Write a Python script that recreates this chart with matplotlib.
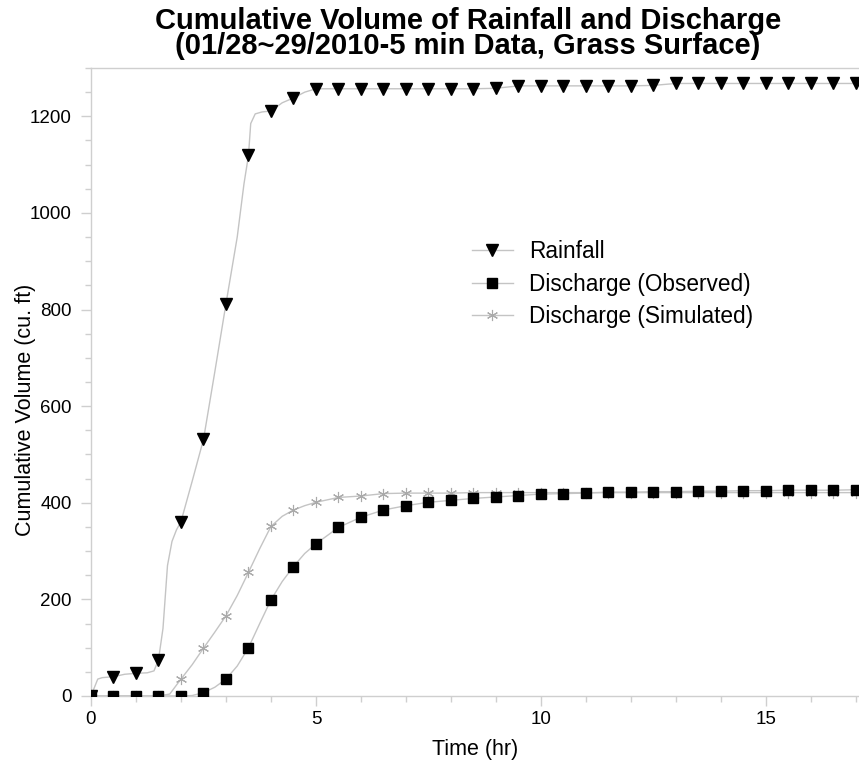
import numpy as np
import matplotlib
matplotlib.use("Agg")
import matplotlib.pyplot as plt
from matplotlib.ticker import MultipleLocator

# ---------------- data ----------------
rain_time = [0, 0.15, 0.25, 0.5, 0.75, 1.0, 1.25, 1.4, 1.5, 1.6, 1.7, 1.8, 1.9,
             2.0, 2.25, 2.5, 2.75, 3.0, 3.25, 3.4, 3.5, 3.55, 3.65, 3.8, 4.0,
             4.25, 4.5, 4.75, 5.0, 5.5, 6.0, 6.5, 7.0, 7.5, 8.0, 8.5, 9.0,
             9.5, 10.0, 10.5, 11.0, 11.5, 12.0, 12.5, 13.0, 13.5, 14.0, 14.5,
             15.0, 15.5, 16.0, 16.5, 17.0]
rain_vol = [0, 35, 38, 40, 45, 47, 48, 52, 75, 140, 270, 320, 344,
            361, 445, 531, 670, 812, 950, 1060, 1119, 1185, 1205, 1209, 1211,
            1228, 1238, 1250, 1257, 1257, 1257, 1257, 1257, 1257, 1257, 1257, 1258,
            1263, 1263, 1263, 1263, 1263, 1263, 1264, 1268, 1268, 1268, 1268,
            1268, 1268, 1268, 1268, 1268]

obs_time = [0, 0.5, 1.0, 1.5, 2.0, 2.25, 2.5, 2.75, 3.0, 3.25, 3.5, 3.75, 4.0,
            4.25, 4.5, 4.75, 5.0, 5.5, 6.0, 6.5, 7.0, 7.5, 8.0, 8.5, 9.0, 9.5,
            10.0, 10.5, 11.0, 11.5, 12.0, 12.5, 13.0, 13.5, 14.0, 14.5, 15.0,
            15.5, 16.0, 16.5, 17.0]
obs_vol = [0, 0, 0, 0, 0, 1, 7, 18, 35, 62, 100, 150, 199,
           237, 268, 295, 315, 349, 370, 385, 394, 401, 405, 409, 412, 415,
           418, 419, 420, 422, 422, 423, 423, 424, 424, 425, 425,
           426, 426, 426, 427]

sim_time = [0, 0.5, 1.0, 1.5, 1.75, 2.0, 2.25, 2.5, 2.75, 3.0, 3.25, 3.5, 3.75,
            4.0, 4.25, 4.5, 4.75, 5.0, 5.5, 6.0, 6.5, 7.0, 7.5, 8.0, 8.5, 9.0,
            9.5, 10.0, 10.5, 11.0, 11.5, 12.0, 12.5, 13.0, 13.5, 14.0, 14.5,
            15.0, 15.5, 16.0, 16.5, 17.0]
sim_vol = [0, 0, 0, 0, 4, 35, 65, 99, 132, 166, 208, 256, 305,
           351, 372, 385, 394, 401, 411, 414, 419, 420, 420, 420, 421, 421,
           421, 421, 421, 421, 421, 421, 421, 421, 421, 421, 421,
           421, 421, 421, 421, 421]

labels = ["Rainfall", "Discharge (Observed)", "Discharge (Simulated)"]
title_text = "Cumulative Volume of Rainfall and Discharge\n(01/28~29/2010-5 min Data, Grass Surface)"
x_label = "Time (hr)"
y_label = "Cumulative Volume (cu. ft)"

# ---------------- style ----------------
plt.rcParams['font.family'] = ['Liberation Sans', 'DejaVu Sans']
LINE = '#c4c4c4'
AX = '#cfcfcf'

fig = plt.figure(figsize=(8.59, 7.72), dpi=100)
ax = fig.add_axes([91/859, 76/772, 1 - 91/859, (696 - 68)/772])


def marks(t):
    t = np.asarray(t)
    return np.isclose(t * 2, np.round(t * 2))


ax.plot(rain_time, rain_vol, color=LINE, lw=1.0, marker='v', ms=8,
        mfc='black', mec='black', markevery=list(marks(rain_time)),
        label=labels[0], zorder=3)
ax.plot(obs_time, obs_vol, color=LINE, lw=1.0, marker='s', ms=6.5,
        mfc='black', mec='black', markevery=list(marks(obs_time)),
        label=labels[1], zorder=3)
ax.plot(sim_time, sim_vol, color=LINE, lw=1.0, marker=(6, 2, 0), ms=8,
        mfc='#aaaaaa', mec='#aaaaaa', mew=0.8, markevery=list(marks(sim_time)),
        label=labels[2], zorder=2)

ax.set_xlim(0, 17.07)
ax.set_ylim(0, 1300)
ax.xaxis.set_major_locator(MultipleLocator(5))
ax.xaxis.set_minor_locator(MultipleLocator(1))
ax.yaxis.set_major_locator(MultipleLocator(200))
ax.yaxis.set_minor_locator(MultipleLocator(50))

for side in ['left', 'bottom', 'top']:
    ax.spines[side].set_color(AX)
    ax.spines[side].set_linewidth(1.0)
ax.spines['right'].set_visible(False)

ax.tick_params(which='major', direction='out', length=7, width=1, color=AX,
               labelsize=13.5, labelcolor='black')
ax.tick_params(axis='y', which='major', pad=7)
ax.tick_params(axis='x', which='major', pad=4)
ax.tick_params(which='minor', direction='out', length=4, width=1, color=AX)
ax.tick_params(top=False, right=False, which='both')

ax.set_xlabel(x_label, fontsize=15.5, labelpad=8)
ax.set_ylabel(y_label, fontsize=15.5)
ax.yaxis.set_label_coords(-0.072, 0.455)

fig.text(468/859, 1 - 7/772, title_text, ha='center', va='top',
         fontsize=21, fontweight='bold', linespacing=0.88)

leg = ax.legend(loc='upper left', bbox_to_anchor=(472/859, 1 - 240/772),
                bbox_transform=fig.transFigure, frameon=False, fontsize=16.3,
                handlelength=1.8, handletextpad=0.72, labelspacing=0.42,
                borderaxespad=0, borderpad=0)

fig.savefig("out.png", dpi=100, facecolor='white')
